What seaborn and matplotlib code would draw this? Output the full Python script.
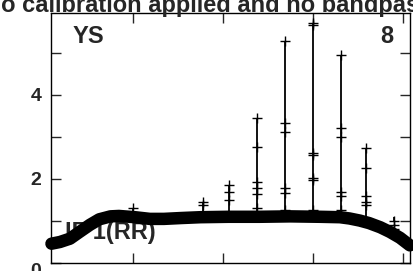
import numpy as np
import pandas as pd
import seaborn as sns
import matplotlib
matplotlib.use("Agg")
import matplotlib.pyplot as plt

# bandpass shape (channel, amplitude)
chan = [3, 6, 9.6, 13, 16.7, 20, 24, 27, 32.7, 38, 43, 49, 56, 66, 77, 88, 98.5,
        105.6, 109, 112.7, 116, 120, 123.4, 127, 130.5]
amp = [0.46, 0.50, 0.58, 0.74, 0.91, 1.04, 1.11, 1.12, 1.09, 1.05, 1.05, 1.07, 1.09,
       1.10, 1.10, 1.11, 1.10, 1.09, 1.06, 1.01, 0.95, 0.85, 0.74, 0.60, 0.42]

# RFI spikes: channel -> amplitudes of the outlying points
spike_chan = [32, 57, 66, 76, 86, 96, 106, 115, 125]
spike_amp = [
    [1.30],
    [1.45, 1.38],
    [1.86, 1.70, 1.50],
    [3.45, 2.75, 1.92, 1.79, 1.64, 1.31],
    [5.29, 3.33, 3.11, 1.78, 1.66, 1.25],
    [5.72, 5.67, 2.61, 2.58, 2.03, 1.97, 1.26],
    [4.94, 3.21, 2.99, 1.70, 1.60, 1.25],
    [2.73, 2.27, 1.60, 1.46, 1.37],
    [1.00, 0.90, 0.80],
]

sns.set_style("ticks")
plt.rcParams["font.family"] = ["Liberation Sans", "DejaVu Sans"]
plt.rcParams["font.weight"] = "bold"

fig = plt.figure(figsize=(4.14, 2.71), dpi=100)
ax = fig.add_axes([0.123, 0.0295, 0.867, 0.9225])

# label sits under the band, as in the reference
ax.text(0.039, 0.096, "IF 1(RR)", transform=ax.transAxes, fontsize=17,
        fontweight="bold", va="baseline", zorder=1)

band = pd.DataFrame({"chan": chan, "amp": amp})
sns.lineplot(data=band, x="chan", y="amp", color="black", linewidth=9, ax=ax,
             zorder=3, clip_on=False)
sns.scatterplot(data=band, x="chan", y="amp", color="black", marker="+", s=60,
                linewidth=1, ax=ax, zorder=3)

rows = []
for c, vals in zip(spike_chan, spike_amp):
    for v in vals:
        rows.append((c, v))
spikes = pd.DataFrame(rows, columns=["chan", "amp"])
ax.vlines(spike_chan, [1.1] * len(spike_chan), [max(v) for v in spike_amp],
          color="black", linewidth=1.3, zorder=4)
sns.scatterplot(data=spikes, x="chan", y="amp", color="black", marker="+", s=55,
                linewidth=1, ax=ax, zorder=4)

ax.set_xlim(2.8, 130.5)
ax.set_ylim(0, 5.95)
ax.set_xticks([32, 64, 96, 128])
ax.set_xticklabels([])
ax.set_yticks([0, 1, 2, 3, 4, 5])
ax.set_yticklabels(["0", "", "2", "", "4", ""])
ax.tick_params(direction="in", length=7, width=1, top=True, right=True,
               labelsize=14, pad=7)
for lab in ax.get_yticklabels():
    lab.set_fontweight("bold")
ax.get_yticklabels()[0].set_va("top")
for s in ax.spines.values():
    s.set_linewidth(1)
    s.set_color("black")
ax.set_xlabel("")
ax.set_ylabel("")

ax.text(0.06, 0.905, "YS", transform=ax.transAxes, fontsize=17,
        fontweight="bold", va="center")
ax.text(0.953, 0.905, "8", transform=ax.transAxes, fontsize=17,
        fontweight="bold", va="center", ha="right")

fig.text(1.045, 1 - 12 / 271, "No calibration applied and no bandpass",
         ha="right", va="baseline", fontsize=17, fontweight="bold")

fig.savefig("out.png", dpi=100)
